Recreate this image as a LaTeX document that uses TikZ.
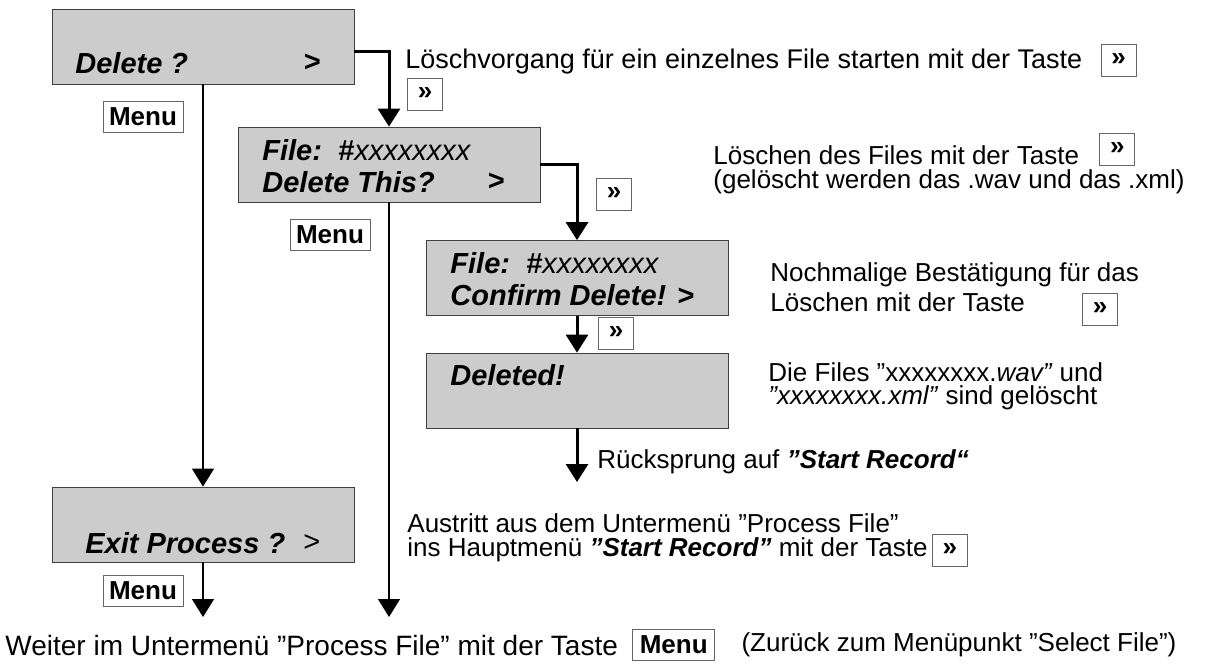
\documentclass[tikz,border=0pt]{standalone}
\usepackage{fontspec}
\setmainfont{Liberation Sans}
\usetikzlibrary{arrows.meta,positioning}
\definecolor{lcdgray}{RGB}{204,204,204}
\definecolor{rimgray}{RGB}{64,64,64}

\begin{document}
\begin{tikzpicture}[
    x=0.5pt, y=-0.5pt,
    lcd/.style={draw=rimgray, fill=lcdgray, minimum width=151pt, minimum height=37.5pt, inner sep=0pt},
    lcdtxt/.style={anchor=west, inner sep=0pt, font=\fontsize{14.5}{15.5}\selectfont\bfseries\itshape},
    note/.style={anchor=west, inner sep=0pt, font=\fontsize{13}{13.5}\selectfont},
    fwd/.style={draw=black!60, fill=white, minimum width=17.5pt, minimum height=16pt, inner sep=0pt, font=\fontsize{13}{13}\selectfont\bfseries},
    menukey/.style={draw=black!60, fill=white, minimum width=40pt, minimum height=15.5pt, inner sep=0pt, font=\fontsize{13}{13}\selectfont\bfseries},
    flow/.style={-{Triangle[width=11pt,length=9pt]}, line width=1.5pt},
    menuflow/.style={-{Triangle[width=11pt,length=9pt]}, line width=0.6pt}
]
\useasboundingbox (0,0) rectangle (1213,664);

% display states
\node[lcd] (del) at (203,46.5) {};
\node[lcdtxt] (delT) at (75,63) {Delete ?};
\node[lcdtxt] (delG) at (303,63) {>};

\node[lcd] (dfile) at (389,164.5) {};
\node[lcdtxt] (dfileA) at (262,150) {File:\ \ \#{\mdseries xxxxxxxx}};
\node[lcdtxt] (dfileB) at (262,182) {Delete This?};
\node[lcdtxt] (dfileG) at (487,182) {>};

\node[lcd] (cfm) at (577,278) {};
\node[lcdtxt] (cfmA) at (450,263) {File:\ \ \#{\mdseries xxxxxxxx}};
\node[lcdtxt] (cfmB) at (450,295) {Confirm Delete! >};

\node[lcd] (done) at (577,390.5) {};
\node[lcdtxt] (doneT) at (450,375) {Deleted!};

\node[lcd] (exitp) at (203,524.5) {};
\node[lcdtxt] (exitT) at (85,543) {Exit Process ?};
\node[lcdtxt] (exitG) at (303,543) {\mdseries\upshape >};

% free ends
\coordinate (back) at (577,482);
\coordinate (toMain) at (389,617);
\coordinate (toSel) at (203,617);

% connectors
\draw[flow] ([yshift=-2.25pt]del.east) -| (dfile.north);
\draw[flow] (dfile.east) -| (cfm.north);
\draw[flow] (cfm.south) -- (done.north);
\draw[flow] (done.south) -- (back);
\draw[menuflow] (del.south) -- (exitp.north);
\draw[menuflow] (dfile.south) -- (toMain);
\draw[menuflow] (exitp.south) -- (toSel);

% keys
\node[menukey] (m1) at (143,117) {Menu};
\node[menukey] (m2) at (330,235) {Menu};
\node[menukey] (m3) at (143,591) {Menu};
\node[fwd] (k2) at (425,94) {»};
\node[fwd] (k3) at (614,194) {»};
\node[fwd] (k6) at (616,333) {»};

% notes
\node[note, font=\fontsize{13.5}{14}\selectfont] (n1) at (405,62) {Löschvorgang für ein einzelnes File starten mit der Taste};
\node[fwd, right=9pt of n1, yshift=1pt] (k1) {»};
\node[note] (n2) at (713,155) {Löschen des Files mit der Taste};
\node[fwd, right=10pt of n2, yshift=3pt] (k4) {»};
\node[note] (n3) at (713,182) {(gelöscht werden das .wav und das .xml)};
\node[note] (n4) at (770,275) {Nochmalige Bestätigung für das};
\node[note] (n5) at (770,302) {Löschen mit der Taste};
\node[fwd] (k5) at (1100,309) {»};
\node[note] (n6) at (768,372) {Die Files ”xxxxxxxx.\textit{wav”} und};
\node[note] (n7) at (768,398) {\textit{”xxxxxxxx.xml”} sind gelöscht};
\node[note] (n8) at (597,462) {Rücksprung auf \textbf{\textit{”Start Record“}}};
\node[note] (n9) at (407,523) {Austritt aus dem Untermenü ”Process File”};
\node[note] (n10) at (407,550) {ins Hauptmenü \textbf{\textit{”Start Record”}} mit der Taste};
\node[fwd, right=2pt of n10] (k7) {»};
\node[note, font=\fontsize{14}{15}\selectfont] (n11) at (5,645) {Weiter im Untermenü ”Process File” mit der Taste};
\node[menukey, minimum width=41pt, right=7pt of n11] (m4) {Menu};
\node[note, right=13pt of m4] (n12) {(Zurück zum Menüpunkt ”Select File”)};
\end{tikzpicture}
\end{document}
